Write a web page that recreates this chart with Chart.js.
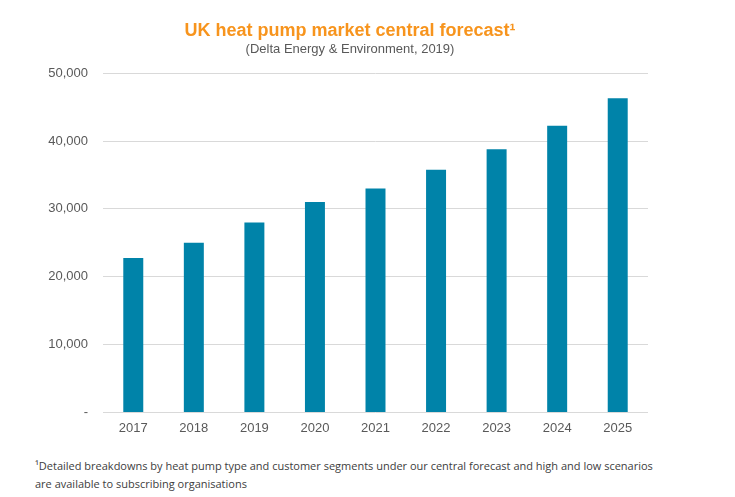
<!DOCTYPE html>
<html>
<head>
<meta charset="utf-8">
<script src="https://cdn.jsdelivr.net/npm/chart.js@4"></script>
<style>
  body { margin: 0; background: #fff; width: 735px; height: 497px; overflow: hidden; position: relative; }
  #wrap { position: absolute; left: 0; top: 0; width: 700px; height: 450px; }
  #note { position: absolute; left: 35px; top: 457px; font-family: "Open Sans", Arial, sans-serif;
          font-size: 11px; line-height: 17.5px; color: #404040; }
</style>
</head>
<body>
<div id="wrap"><canvas id="chart"></canvas></div>
<div id="note">¹Detailed breakdowns by heat pump type and customer segments under our central forecast and high and low scenarios<br>are available to subscribing organisations</div>
<script>
const years = ["2017", "2018", "2019", "2020", "2021", "2022", "2023", "2024", "2025"];
const installs = [22750, 25000, 28000, 31000, 33000, 35750, 38800, 42250, 46300];
const yTicks = [0, 10000, 20000, 30000, 40000, 50000];

const data = {
  labels: years,
  datasets: [
    {
      label: "Heat pump sales",
      data: installs,
      backgroundColor: "#0083A9",
      barPercentage: 0.33,
      categoryPercentage: 1,
    },
  ],
};

const axisFont = { family: "Arial, 'Liberation Sans', sans-serif", size: 13 };

new Chart(document.getElementById("chart"), {
  type: "bar",
  data: data,
  options: {
    responsive: true,
    maintainAspectRatio: false,
    animation: false,
    layout: { padding: { left: 0, right: 0, top: 0, bottom: 6 } },
    plugins: {
      legend: { display: false },
      tooltip: { enabled: false },
      title: {
        display: true,
        text: "UK heat pump market central forecast¹",
        color: "#F7941D",
        font: { family: "Arial, 'Liberation Sans', sans-serif", size: 18, weight: "bold" },
        padding: { top: 20, bottom: 0 },
      },
      subtitle: {
        display: true,
        text: "(Delta Energy & Environment, 2019)",
        color: "#595959",
        font: { family: "Arial, 'Liberation Sans', sans-serif", size: 13 },
        padding: { top: 0, bottom: 16 },
      },
    },
    scales: {
      x: {
        grid: { display: false, drawTicks: false },
        border: { display: false },
        ticks: { color: "#595959", font: axisFont, padding: 8 },
      },
      y: {
        min: 0,
        max: 50000,
        afterFit: (scale) => { scale.width = 103; },
        afterBuildTicks: (scale) => { scale.ticks = yTicks.map((v) => ({ value: v })); },
        grid: { color: "#D9D9D9", lineWidth: 1, drawTicks: false },
        border: { display: false },
        ticks: {
          color: "#595959",
          font: axisFont,
          padding: 15,
          callback: (v) => (v === 0 ? "-" : v.toLocaleString("en-GB")),
        },
      },
      // empty right-hand spacer so the title stays centred on the page
      spacer: {
        type: "linear",
        position: "right",
        afterFit: (scale) => { scale.width = 52; },
        grid: { display: false, drawTicks: false },
        border: { display: false },
        ticks: { display: false },
      },
    },
  },
});
</script>
</body>
</html>
